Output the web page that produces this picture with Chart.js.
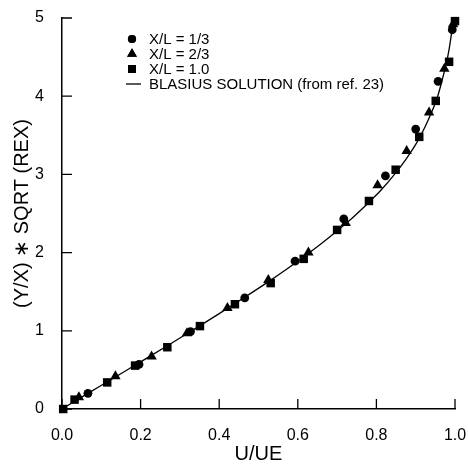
<!DOCTYPE html>
<html>
<head>
<meta charset="utf-8">
<script src="https://cdn.jsdelivr.net/npm/chart.js@4.4.1/dist/chart.umd.min.js"></script>
<style>
  html, body { margin: 0; padding: 0; background: #fff; }
  #wrap { width: 468px; height: 466px; }
</style>
</head>
<body>
<div id="wrap"><canvas id="blasiusChart" width="468" height="466"></canvas></div>
<script>
// measured points, U/UE vs (Y/X)*SQRT(REX)
const circleU = [0.066, 0.196, 0.327, 0.465, 0.593, 0.717, 0.823, 0.900, 0.957, 0.993];
const circleEta = [0.20, 0.57, 0.99, 1.42, 1.89, 2.43, 2.98, 3.58, 4.19, 4.85];

const triangleU = [0.043, 0.136, 0.228, 0.318, 0.421, 0.525, 0.627, 0.722, 0.803, 0.877, 0.934, 0.973, 0.995];
const triangleEta = [0.15, 0.42, 0.67, 0.97, 1.29, 1.65, 2.00, 2.38, 2.86, 3.30, 3.79, 4.35, 4.92];

const squareU = [0.003, 0.032, 0.115, 0.186, 0.268, 0.351, 0.440, 0.531, 0.615, 0.700, 0.781, 0.849, 0.909, 0.951, 0.985, 1.000];
const squareEta = [0.00, 0.12, 0.34, 0.555, 0.79, 1.06, 1.34, 1.61, 1.92, 2.29, 2.66, 3.06, 3.48, 3.94, 4.44, 4.96];

// Blasius solution (from ref. 23)
const blasiusU = [0, 0.066, 0.133, 0.199, 0.265, 0.330, 0.394, 0.456, 0.517, 0.575, 0.630, 0.681, 0.729, 0.772, 0.812, 0.846, 0.876, 0.902, 0.923, 0.941, 0.956, 0.967, 0.977, 0.985, 0.991, 0.996];
const blasiusEta = [0, 0.2, 0.4, 0.6, 0.8, 1.0, 1.2, 1.4, 1.6, 1.8, 2.0, 2.2, 2.4, 2.6, 2.8, 3.0, 3.2, 3.4, 3.6, 3.8, 4.0, 4.2, 4.4, 4.6, 4.8, 5.0];

const xTicks = [0, 0.2, 0.4, 0.6, 0.8, 1.0];
const yTicks = [0, 1, 2, 3, 4, 5];

function toPoints(xs, ys) {
    return xs.map((x, i) => ({ x: x, y: ys[i] }));
}

// inward tick marks + legend inside the plot
const extras = {
    id: 'extras',
    afterDraw(chart) {
        const ctx = chart.ctx;
        const xs = chart.scales.x, ys = chart.scales.y;
        const area = chart.chartArea;
        ctx.save();
        ctx.strokeStyle = '#000';
        ctx.lineWidth = 1.3;
        ctx.beginPath();
        xTicks.forEach(v => {
            const px = xs.getPixelForValue(v);
            ctx.moveTo(px, area.bottom);
            ctx.lineTo(px, area.bottom - 10);
        });
        yTicks.forEach(v => {
            const py = ys.getPixelForValue(v);
            ctx.moveTo(area.left, py);
            ctx.lineTo(area.left + 10, py);
        });
        ctx.stroke();

        // legend
        const rowY = [39, 54, 69, 84];
        const markX = 132, textX = 149;
        ctx.fillStyle = '#000';
        ctx.font = '15px "Liberation Sans", Arial, sans-serif';
        ctx.textBaseline = 'middle';
        ctx.textAlign = 'left';
        chart.data.datasets.forEach((ds, i) => {
            const y = rowY[i];
            if (ds.showLine) {
                ctx.beginPath();
                ctx.moveTo(126, y);
                ctx.lineTo(141, y);
                ctx.stroke();
            } else {
                Chart.helpers.drawPoint(ctx, { pointStyle: ds.pointStyle, radius: ds.pointRadius - 0.3, rotation: 0, borderWidth: 0 }, markX, y);
                ctx.fill();
            }
            ctx.fillText(ds.label, textX, y + 1);
        });
        ctx.restore();
    }
};

function drawChart() {
    const ctx = document.getElementById('blasiusChart').getContext('2d');
    const font = '"Liberation Sans", Arial, sans-serif';

    new Chart(ctx, {
        type: 'scatter',
        data: {
            datasets: [
                {
                    label: 'X/L = 1/3',
                    data: toPoints(circleU, circleEta),
                    pointStyle: 'circle',
                    pointRadius: 4.4,
                    backgroundColor: '#000',
                    borderColor: '#000',
                    borderWidth: 0
                },
                {
                    label: 'X/L = 2/3',
                    data: toPoints(triangleU, triangleEta),
                    pointStyle: 'triangle',
                    pointRadius: 6,
                    backgroundColor: '#000',
                    borderColor: '#000',
                    borderWidth: 0
                },
                {
                    label: 'X/L = 1.0',
                    data: toPoints(squareU, squareEta),
                    pointStyle: 'rect',
                    pointRadius: 6,
                    backgroundColor: '#000',
                    borderColor: '#000',
                    borderWidth: 0
                },
                {
                    label: 'BLASIUS SOLUTION (from ref. 23)',
                    data: toPoints(blasiusU, blasiusEta),
                    showLine: true,
                    pointRadius: 0,
                    borderColor: '#000',
                    borderWidth: 1.3,
                    fill: false,
                    cubicInterpolationMode: 'monotone'
                }
            ]
        },
        options: {
            responsive: false,
            animation: false,
            clip: false,
            layout: { padding: { left: 0, right: 13, top: 18, bottom: 0 } },
            plugins: {
                legend: { display: false },
                tooltip: { enabled: false }
            },
            scales: {
                x: {
                    type: 'linear',
                    min: 0,
                    max: 1,
                    afterFit: s => { s.height = 57; s.paddingLeft = 0; s.paddingRight = 0; },
                    afterBuildTicks: s => { s.ticks = xTicks.map(v => ({ value: v })); },
                    grid: { display: false },
                    border: { display: true, color: '#000', width: 1.5 },
                    ticks: {
                        color: '#000',
                        padding: 9,
                        font: { family: font, size: 16 },
                        callback: v => v.toFixed(1)
                    },
                    title: {
                        display: true,
                        text: 'U/UE',
                        color: '#000',
                        font: { family: font, size: 20 },
                        padding: { top: 4, bottom: 0 }
                    }
                },
                y: {
                    type: 'linear',
                    min: 0,
                    max: 5,
                    afterFit: s => { s.width = 62; s.paddingTop = 0; s.paddingBottom = 0; },
                    afterBuildTicks: s => { s.ticks = yTicks.map(v => ({ value: v })); },
                    grid: { display: false },
                    border: { display: true, color: '#000', width: 1.5 },
                    ticks: {
                        color: '#000',
                        padding: 10,
                        font: { family: font, size: 16 },
                        callback: v => String(v)
                    },
                    title: {
                        display: true,
                        text: '(Y/X) \u2217 SQRT (REX)',
                        color: '#000',
                        font: { family: font, size: 20 },
                        padding: { top: 10, bottom: 0 }
                    }
                }
            }
        },
        plugins: [extras]
    });
}

document.addEventListener("DOMContentLoaded", drawChart);
</script>
</body>
</html>
